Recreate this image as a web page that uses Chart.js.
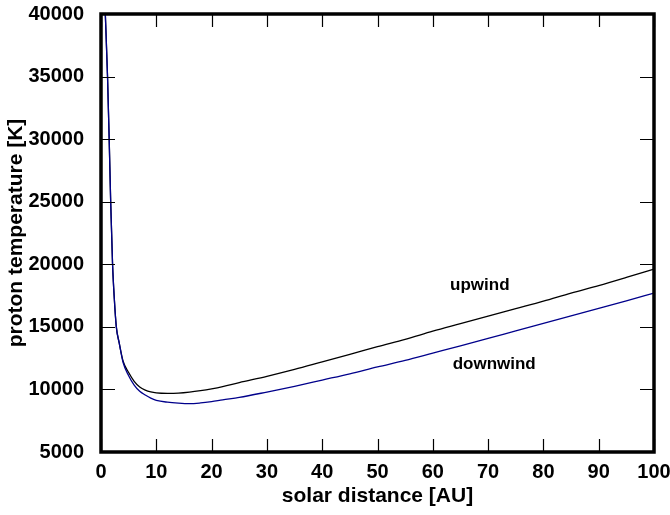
<!DOCTYPE html>
<html>
<head>
<meta charset="utf-8">
<script src="https://cdn.jsdelivr.net/npm/chart.js@4.4.1/dist/chart.umd.min.js"></script>
<style>
  html, body { margin: 0; padding: 0; background: #fff; }
  #wrap { width: 670px; height: 515px; }
</style>
</head>
<body>
<div id="wrap"><canvas id="tempChart"></canvas></div>
<script>
// solar distance [AU] shared by both curves
const distanceAU = [0.78, 1.18, 1.48, 1.75, 2.09, 2.4, 2.77, 3.3, 4, 5, 6, 7, 8, 9, 10, 12, 14, 16, 18, 20, 22, 25, 30, 35, 40, 45, 50, 55, 60, 65, 70, 75, 80, 85, 90, 95, 100]
// proton temperature [K]
const upwindK   = [40000, 35000, 30000, 25000, 20000, 17300, 15000, 13700, 12250, 11350, 10650, 10200, 9950, 9800, 9720, 9680, 9700, 9780, 9900, 10050, 10230, 10550, 11050, 11600, 12200, 12800, 13420, 14000, 14650, 15250, 15850, 16450, 17050, 17700, 18300, 18950, 19620]
const downwindK = [40000, 35000, 30000, 25000, 20000, 17300, 15000, 13700, 12150, 11100, 10350, 9850, 9550, 9300, 9130, 8980, 8900, 8860, 8920, 9030, 9170, 9360, 9790, 10250, 10750, 11250, 11800, 12320, 12900, 13480, 14080, 14680, 15280, 15880, 16480, 17080, 17700]

const xTicks = [0, 10, 20, 30, 40, 50, 60, 70, 80, 90, 100]
const yTicks = [5000, 10000, 15000, 20000, 25000, 30000, 35000, 40000]

// curve labels, in data coordinates
const curveLabels = [
  { text: 'upwind', x: 68.5, y: 18350 },
  { text: 'downwind', x: 71.1, y: 11970 }
]

const toPoints = (ys) => distanceAU.map((x, i) => ({ x: x, y: ys[i] }))

const FONT = '"Liberation Sans", Arial, sans-serif'

// frame with inward ticks on all four sides
const framePlugin = {
  id: 'frame',
  afterDatasetsDraw(chart) {
    const { ctx, chartArea: a, scales } = chart
    ctx.save()
    ctx.strokeStyle = '#000'
    ctx.lineWidth = 1.2
    ctx.beginPath()
    xTicks.forEach((v) => {
      const px = Math.round(scales.x.getPixelForValue(v)) + 0.5
      ctx.moveTo(px, a.bottom); ctx.lineTo(px, a.bottom - 13)
      ctx.moveTo(px, a.top); ctx.lineTo(px, a.top + 13)
    })
    yTicks.forEach((v) => {
      const py = Math.round(scales.y.getPixelForValue(v)) + 0.5
      ctx.moveTo(a.left, py); ctx.lineTo(a.left + 14, py)
      ctx.moveTo(a.right, py); ctx.lineTo(a.right - 14, py)
    })
    ctx.stroke()
    ctx.lineWidth = 3.5
    ctx.strokeRect(a.left, a.top, a.right - a.left, a.bottom - a.top)

    ctx.fillStyle = '#000'
    ctx.font = 'bold 17px ' + FONT
    ctx.textAlign = 'center'
    ctx.textBaseline = 'middle'
    curveLabels.forEach((l) => {
      ctx.fillText(l.text, scales.x.getPixelForValue(l.x), scales.y.getPixelForValue(l.y))
    })
    ctx.restore()
  }
}

const chart = new Chart(document.getElementById('tempChart'), {
  type: 'line',
  data: {
    datasets: [
      {
        label: 'downwind',
        data: toPoints(downwindK),
        borderColor: '#00008b',
        borderWidth: 1.3,
        pointRadius: 0,
        cubicInterpolationMode: 'monotone',
        order: 0
      },
      {
        label: 'upwind',
        data: toPoints(upwindK),
        borderColor: '#000000',
        borderWidth: 1.3,
        pointRadius: 0,
        cubicInterpolationMode: 'monotone',
        order: 1
      }
    ]
  },
  options: {
    responsive: true,
    maintainAspectRatio: false,
    animation: false,
    layout: { padding: { top: 14, right: 16, left: 0, bottom: 0 } },
    plugins: {
      legend: { display: false },
      tooltip: { enabled: false }
    },
    scales: {
      x: {
        type: 'linear',
        min: 0,
        max: 100,
        afterFit: (s) => { s.height = 63; s.paddingLeft = 0; s.paddingRight = 0 },
        afterBuildTicks: (s) => { s.ticks = xTicks.map((v) => ({ value: v })) },
        grid: { display: false },
        border: { display: false },
        ticks: {
          color: '#000', padding: 0,
          font: { family: FONT, size: 20, weight: 'bold' },
          callback: (v) => String(v)
        },
        title: {
          display: true,
          text: 'solar distance [AU]',
          color: '#000',
          padding: { top: 0, bottom: 6 },
          font: { family: FONT, size: 21, weight: 'bold' }
        }
      },
      y: {
        type: 'linear',
        min: 5000,
        max: 40000,
        afterFit: (s) => { s.width = 101; s.paddingTop = 0; s.paddingBottom = 0 },
        afterBuildTicks: (s) => { s.ticks = yTicks.map((v) => ({ value: v })) },
        grid: { display: false },
        border: { display: false },
        ticks: {
          color: '#000', padding: 9,
          font: { family: FONT, size: 20, weight: 'bold' },
          callback: (v) => String(v)
        },
        title: {
          display: true,
          text: 'proton temperature [K]',
          color: '#000',
          padding: { top: 4, bottom: 0 },
          font: { family: FONT, size: 21, weight: 'bold' }
        }
      }
    }
  },
  plugins: [framePlugin]
})
</script>
</body>
</html>
